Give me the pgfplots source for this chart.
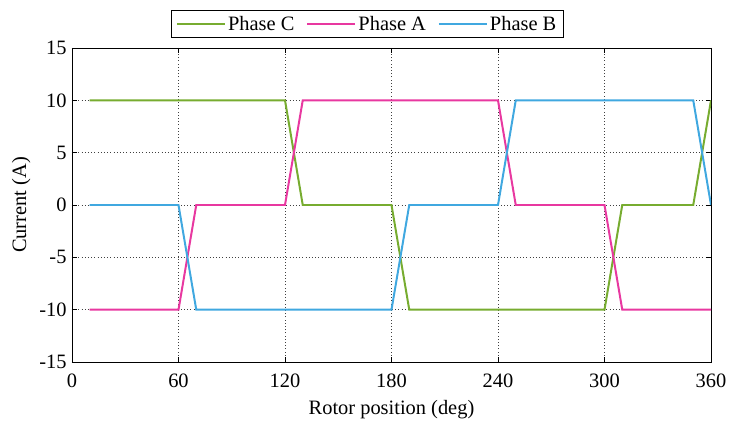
\documentclass[border=0pt]{standalone}
\usepackage{fontspec}
\setmainfont{Liberation Serif}
\usepackage{pgfplots}
\pgfplotsset{compat=1.18}

\definecolor{phaseC}{RGB}{119,172,48}
\definecolor{phaseA}{RGB}{232,56,160}
\definecolor{phaseB}{RGB}{64,168,224}

\begin{document}
\begin{tikzpicture}
\begin{axis}[
  name=ax,
  at={(0,0)}, anchor=south west,
  scale only axis,
  width=639bp, height=314bp,
  xmin=0, xmax=360, ymin=-15, ymax=15,
  xtick={0,60,...,360},
  ytick={-15,-10,...,15},
  tick align=inside,
  tick style={black, line width=0.5pt},
  major tick length=5bp,
  grid=major,
  major grid style={black!75, line width=0.7pt, dash pattern=on 0.8bp off 2.4bp},
  axis line style={black, line width=0.8pt},
  /pgf/number format/assume math mode=true,
  ticklabel style={font=\fontsize{20.5}{23}\selectfont},
  xticklabel style={yshift=-8bp},
  yticklabel style={xshift=-2bp},
  label style={font=\fontsize{20.5}{23}\selectfont},
  xlabel={Rotor position (deg)},
  ylabel={Current (A)},
  xlabel style={yshift=-6bp},
  ylabel style={yshift=2bp},
  legend columns=3,
  legend style={
    at={(rel axis cs:0.462,1)}, anchor=south,
    yshift=10bp,
    draw=black, line width=0.8pt,
    font=\fontsize{20.5}{23}\selectfont,
    /tikz/every even column/.append style={column sep=10bp},
    inner ysep=4bp, inner xsep=5bp,
  },
  legend cell align=left,
  legend image code/.code={\draw[#1, line width=2pt] (0bp,0bp) -- (48bp,0bp);},
]
\addplot[phaseC, line width=2pt] coordinates {
  (10,10) (120,10) (130,0) (180,0) (190,-10) (300,-10) (310,0) (350,0) (360,10)
};
\addlegendentry{Phase C}
\addplot[phaseA, line width=2pt] coordinates {
  (10,-10) (60,-10) (70,0) (120,0) (130,10) (240,10) (250,0) (300,0) (310,-10) (360,-10)
};
\addlegendentry{Phase A}
\addplot[phaseB, line width=2pt] coordinates {
  (10,0) (60,0) (70,-10) (180,-10) (190,0) (240,0) (250,10) (350,10) (360,0)
};
\addlegendentry{Phase B}
\end{axis}
\pgfresetboundingbox
\path[use as bounding box] ([xshift=-72bp,yshift=-59bp]ax.south west) rectangle ([xshift=18bp,yshift=48bp]ax.north east);
\end{tikzpicture}
\end{document}
